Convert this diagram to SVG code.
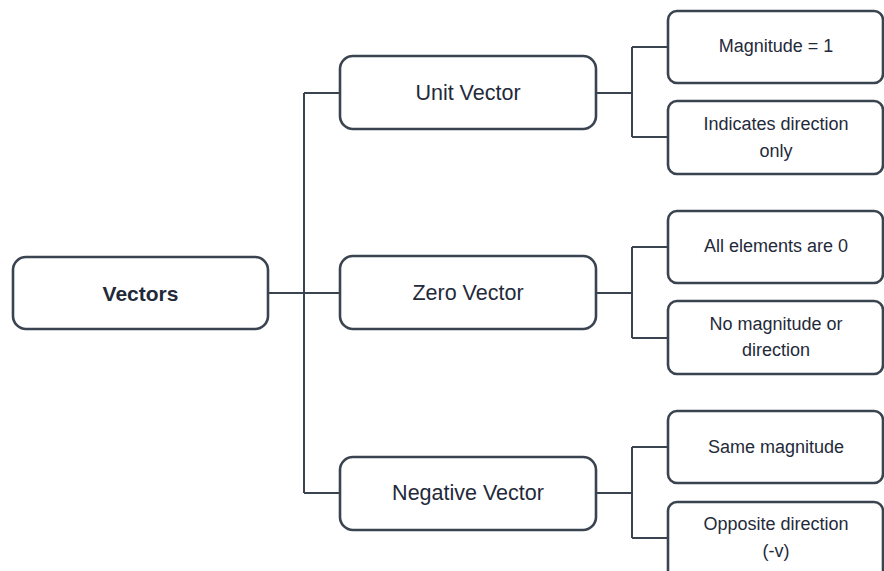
<svg xmlns="http://www.w3.org/2000/svg" width="884" height="571" viewBox="0 0 884 571">
<style>
.box{fill:#fff;stroke:#3a4350;stroke-width:2.6}
.ln{fill:none;stroke:#3a4350;stroke-width:2}
text{font-family:"Liberation Sans",Arial,sans-serif;fill:#1f2a3a;text-anchor:middle;dominant-baseline:central}
.root{font-size:21px;font-weight:bold}
.mid{font-size:21.5px}
.leaf{font-size:18px}
</style>
<rect width="884" height="571" fill="#fff"/>
<g id="connectors">
<path class="ln" d="M268 293H340M304 93V493M304 93H340M304 493H340"/>
<path class="ln" d="M596 93H632M632 47V137M632 47H668M632 137H668"/>
<path class="ln" d="M596 293H632M632 247V338M632 247H668M632 338H668"/>
<path class="ln" d="M596 493H632M632 447V538M632 447H668M632 538H668"/>
</g>
<g id="vectors"><rect class="box" x="13" y="257" width="255" height="72" rx="13"/><text class="root" x="140.5" y="293">Vectors</text></g>
<g id="unit"><rect class="box" x="340" y="56" width="256" height="73" rx="13"/><text class="mid" x="468" y="92.5">Unit Vector</text></g>
<g id="zero"><rect class="box" x="340" y="256" width="256" height="73" rx="13"/><text class="mid" x="468" y="293">Zero Vector</text></g>
<g id="negative"><rect class="box" x="340" y="457" width="256" height="73" rx="13"/><text class="mid" x="468" y="493">Negative Vector</text></g>
<g id="mag1"><rect class="box" x="668" y="11" width="215" height="72" rx="9"/><text class="leaf" x="776" y="46">Magnitude = 1</text></g>
<g id="dironly"><rect class="box" x="668" y="101" width="215" height="73" rx="9"/><text class="leaf" x="776" y="124">Indicates direction</text><text class="leaf" x="776" y="151">only</text></g>
<g id="allzero"><rect class="box" x="668" y="211" width="215" height="72" rx="9"/><text class="leaf" x="776" y="246">All elements are 0</text></g>
<g id="nomag"><rect class="box" x="668" y="301" width="215" height="73" rx="9"/><text class="leaf" x="776" y="324">No magnitude or</text><text class="leaf" x="776" y="350">direction</text></g>
<g id="samemag"><rect class="box" x="668" y="411" width="215" height="72" rx="9"/><text class="leaf" x="776" y="447">Same magnitude</text></g>
<g id="oppdir"><rect class="box" x="668" y="502" width="215" height="80" rx="9"/><text class="leaf" x="776" y="524">Opposite direction</text><text class="leaf" x="776" y="551">(-v)</text></g>
</svg>
